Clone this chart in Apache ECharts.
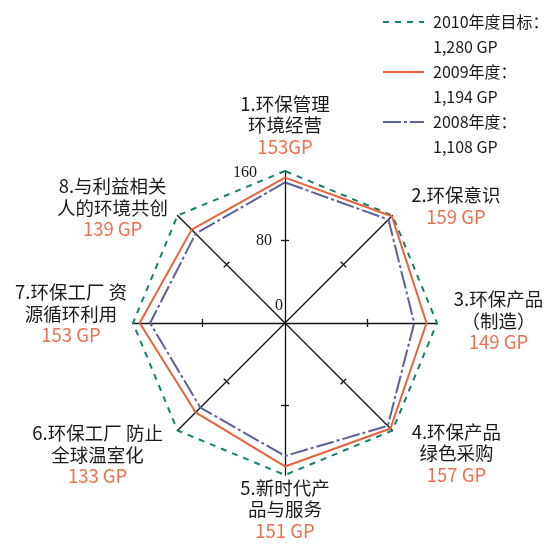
<!DOCTYPE html>
<html>
<head>
<meta charset="utf-8">
<script src="https://cdn.jsdelivr.net/npm/echarts@6/dist/echarts.min.js"></script>
<style>
html,body{margin:0;padding:0;background:#fff;}
#chart{width:552px;height:550px;}
</style>
</head>
<body>
<div id="chart"></div>
<script>
// ---------- data ----------
const categories = [
  '1.环保管理\n环境经营',
  '2.环保意识',
  '3.环保产品\n（制造）',
  '4.环保产品\n绿色采购',
  '5.新时代产\n品与服务',
  '6.环保工厂 防止\n全球温室化',
  '7.环保工厂 资\n源循环利用',
  '8.与利益相关\n人的环境共创'
];
const seriesNames = ['2010年度目标：', '2009年度：', '2008年度：'];
const seriesTotals = ['1,280 GP', '1,194 GP', '1,108 GP'];
const target2010 = [160, 160, 160, 160, 160, 160, 160, 160];
const values2009 = [153, 159, 149, 157, 151, 133, 153, 139];
const values2008 = [148, 154, 136, 153, 140, 126, 142, 133];
const valueLabels = ['153GP', '159 GP', '149 GP', '157 GP', '151 GP', '133 GP', '153 GP', '139 GP'];
const axisMax = 160;
const axisLabelStep = 80;
const tickMarkValues = [87];

// ---------- styles / layout ----------
const FONT = '"Noto Sans CJK SC", "Noto Sans", sans-serif';
const SERIF = '"Liberation Serif", "DejaVu Serif", serif';
const colors = ['#14806F', '#E8603C', '#5B6198'];
const dashes = [[6, 6], 'solid', [18, 3, 3, 3]];
const TXT = '#1a1a1a';
const ORANGE = '#EE7050';
const LH = 21.5;
const FS = 18.5;
// ECharts lays radar axes counter-clockwise; the reference goes clockwise
const axisOrder = [0, 7, 6, 5, 4, 3, 2, 1];
// per-label layout tweaks (by category): token width, top spacer, bottom spacer
const labelLayout = [
  {w: 0, t: 0, b: 11.5},
  {w: 124, t: 0, b: 16},
  {w: 119, t: 0, b: 5},
  {w: 125, t: 43, b: 0},
  {w: 0, t: 0, b: 0},
  {w: 157, t: 46, b: 0},
  {w: 120, t: 0, b: 19},
  {w: 127, t: 0, b: 13}
];

const rich = {};
labelLayout.forEach((L, i) => {
  const base = {fontFamily: FONT, fontSize: FS, lineHeight: LH, align: 'center'};
  if (L.w) base.width = L.w;
  rich['n' + i] = Object.assign({}, base, {color: TXT});
  rich['v' + i] = Object.assign({}, base, {color: ORANGE});
  rich['t' + i] = {fontSize: 1, lineHeight: L.t || 1, align: 'center'};
  rich['b' + i] = {fontSize: 1, lineHeight: L.b || 1, align: 'center'};
  if (L.w) { rich['t' + i].width = L.w; rich['b' + i].width = L.w; }
});

function nameFormatter(name) {
  const i = categories.indexOf(name);
  const L = labelLayout[i];
  const lines = [];
  if (L.t) lines.push('{t' + i + '| }');
  name.split('\n').forEach(s => lines.push('{n' + i + '|' + s + '}'));
  lines.push('{v' + i + '|' + valueLabels[i] + '}');
  if (L.b) lines.push('{b' + i + '| }');
  return lines.join('\n');
}

const radarCommon = {
  center: [285, 323],
  radius: 152,
  startAngle: 90,
  shape: 'polygon',
  splitNumber: 2,
  indicator: axisOrder.map(i => ({name: categories[i], min: 0, max: axisMax})),
  splitLine: {show: false},
  splitArea: {show: false},
  axisLabel: {show: false}
};

const allData = [target2010, values2009, values2008];
const serifLabel = {fontFamily: SERIF, fontSize: 16, color: TXT};

const option = {
  animation: false,
  backgroundColor: '#fff',
  grid: {left: 0, top: 0, width: 5, height: 5, show: false},
  xAxis: {type: 'value', show: false},
  yAxis: {type: 'value', show: false},
  polar: {center: [285, 323], radius: 152},
  angleAxis: {show: false, startAngle: 90, min: 0, max: 360},
  radiusAxis: {
    min: 0, max: axisMax, interval: axisLabelStep,
    axisLine: {show: false}, axisTick: {show: false}, splitLine: {show: false},
    axisLabel: {
      show: true, margin: 2,
      formatter: v => '{r' + v + '|' + v + '}',
      rich: {
        r0: Object.assign({padding: [0, 0, 34, 0]}, serifLabel),
        r80: Object.assign({padding: [0, 11, 12, 0]}, serifLabel),
        r160: Object.assign({padding: [4, 26, 0, 0]}, serifLabel)
      }
    }
  },
  radar: [
    Object.assign({}, radarCommon, {
      nameGap: 2,
      axisName: {show: true, formatter: nameFormatter, rich: rich, fontFamily: FONT, fontSize: FS, color: TXT},
      axisLine: {show: true, lineStyle: {color: '#111', width: 1.3}},
      axisTick: {show: true, length: 4, customValues: tickMarkValues, lineStyle: {color: '#111', width: 1.3}}
    }),
    Object.assign({}, radarCommon, {
      axisName: {show: false},
      axisLine: {show: false},
      axisTick: {show: true, length: -4, customValues: tickMarkValues, lineStyle: {color: '#111', width: 1.3}}
    })
  ],
  legend: seriesNames.map((nm, k) => ({
    orient: 'vertical',
    left: 382,
    top: -3.5 + 50 * k,
    padding: 0,
    itemWidth: 41,
    itemHeight: 14,
    selectedMode: false,
    itemStyle: {opacity: 0},
    data: [nm],
    formatter: name => '{s| }\n{a|' + name + '}\n{a|' + seriesTotals[seriesNames.indexOf(name)] + '}',
    textStyle: {
      fontFamily: FONT, fontSize: 16, color: TXT,
      rich: {
        s: {fontSize: 1, lineHeight: 25},
        a: {fontFamily: FONT, fontSize: 16, lineHeight: 25, color: TXT, padding: [0, 0, 0, 4]}
      }
    }
  })),
  series: [].concat(
    seriesNames.map((nm, k) => ({
      type: 'line', name: nm, data: [], symbol: 'none', silent: true,
      color: colors[k],
      lineStyle: {color: colors[k], width: 2, type: dashes[k]}
    })),
    seriesNames.map((nm, k) => ({
      type: 'radar', name: nm, radarIndex: 0, symbol: 'none', silent: true,
      color: colors[k],
      lineStyle: {color: colors[k], width: 2, type: dashes[k]},
      data: [{name: nm, value: axisOrder.map(i => allData[k][i])}]
    }))
  )
};

const chart = echarts.init(document.getElementById('chart'), null, {renderer: 'canvas'});
chart.setOption(option);
</script>
</body>
</html>
